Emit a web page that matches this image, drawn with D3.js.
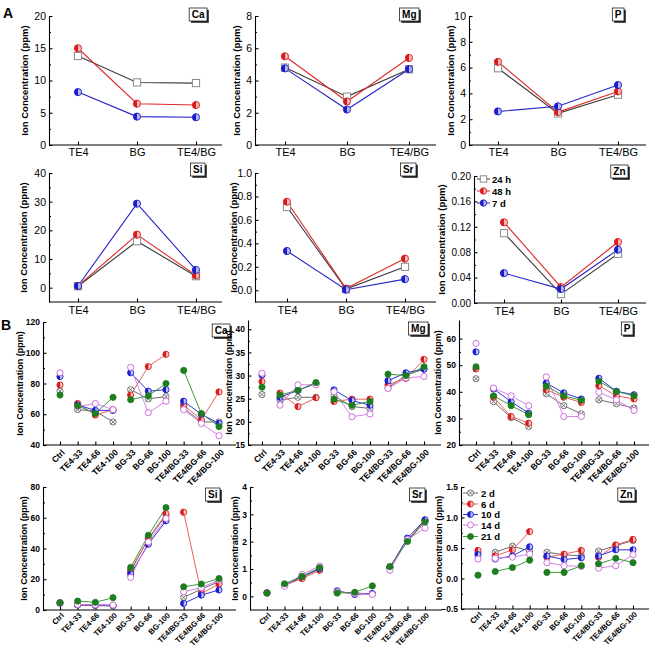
<!DOCTYPE html>
<html><head><meta charset="utf-8">
<script src="https://cdn.jsdelivr.net/npm/d3@7"></script>
<style>body{margin:0;background:#fff} text{font-family:"Liberation Sans",Arial,sans-serif}</style>
</head><body><svg id="c" width="649" height="648"></svg>
<script>
// ---------- DATA ----------
const catsA = ["TE4","BG","TE4/BG"];
const seriesA = ["24 h","48 h","7 d"];
const caA = [[13.8,9.7,9.6],[15.0,6.4,6.2],[8.2,4.4,4.3]];
const mgA = [[4.8,3.0,4.7],[5.5,2.7,5.4],[4.75,2.2,4.7]];
const pA  = [[5.95,2.45,3.9],[6.45,2.55,4.15],[2.6,3.0,4.65]];
const siA = [[0.5,16.2,4.0],[0.6,18.5,4.3],[0.6,29.3,6.2]];
const srA = [[0.71,0.01,0.20],[0.755,0.015,0.27],[0.335,0.005,0.095]];
const znA = [[0.110,0.014,0.0775],[0.127,0.025,0.096],[0.047,0.022,0.084]];
const caATicks = [0,5,10,15,20];
const mgATicks = [0,2,4,6,8];
const pATicks  = [0,2,4,6,8,10];
const siATicks = [0,10,20,30,40];
const srATicks = [0,0.2,0.4,0.6,0.8,1.0];
const znATicks = [0,0.04,0.08,0.12,0.16,0.20];

const catsB = ["Ctrl","TE4-33","TE4-66","TE4-100","BG-33","BG-66","BG-100","TE4/BG-33","TE4/BG-66","TE4/BG-100"];
const seriesB = ["2 d","6 d","10 d","14 d","21 d"];
const groupsB = [[0],[1,2,3],[4,5,6],[7,8,9]];
const caB = [
  [75,63,62,55,76,70,71.5,64,55,55],
  [79,67,59.5,63,72.5,91,99,66,56.5,74.5],
  [84.5,66,62.5,62.5,87,75,76,68.5,60,54],
  [87,65,67,63,90.5,61,68.5,63,54,46],
  [72.5,65.5,60.5,71,69.5,72,80,88.5,60.5,52]];
const mgB = [
  [25.9,24.7,25.3,25.3,25.6,23.3,22.9,27.3,30.1,31.4],
  [28.7,26.2,23.3,25.2,24.4,24.9,24.9,28.0,29.4,33.5],
  [30.1,25.3,26.8,28.3,26.9,24.6,23.6,28.9,30.6,31.4],
  [30.5,23.6,28.0,28.0,26.5,21.1,21.7,27.2,29.5,29.8],
  [27.5,25.8,26.8,28.5,24.9,23.6,24.4,30.3,30.0,31.9]];
const pB = [
  [44.9,36.3,30.3,26.9,39.3,34.8,31.7,37.0,35.5,33.9],
  [48.6,38.0,30.7,28.2,40.8,38.0,36.0,42.3,38.5,37.3],
  [55.0,41.1,36.3,32.0,43.3,39.6,37.3,45.1,40.2,38.9],
  [58.2,41.4,38.5,34.8,45.6,30.7,30.7,39.8,37.0,33.0],
  [49.4,38.5,34.8,31.4,42.1,38.5,36.8,44.0,40.1,38.5]];
const siB = [
  [4.5,3.2,2.8,2.6,26.0,46.0,61.6,8.2,13.6,18.4],
  [4.6,3.5,3.3,3.0,25.0,46.5,62.7,63.6,10.8,16.9],
  [4.5,3.4,3.2,3.0,23.4,42.8,58.0,4.3,9.7,13.0],
  [4.7,3.6,3.4,3.2,21.2,44.3,59.5,11.9,14.5,19.5],
  [4.8,5.8,5.0,8.0,27.7,48.6,66.6,15.1,16.9,20.5]];
const srB = [
  [0.12,0.42,0.70,1.00,0.16,0.12,0.09,1.05,2.05,2.75],
  [0.13,0.40,0.65,0.95,0.15,0.11,0.09,1.07,2.05,2.78],
  [0.13,0.40,0.73,1.01,0.20,0.07,0.10,1.05,2.13,2.80],
  [0.12,0.37,0.80,1.11,0.16,0.10,0.07,0.95,2.08,2.50],
  [0.12,0.46,0.73,1.05,0.12,0.15,0.38,1.09,2.01,2.72]];
const znB = [
  [0.42,0.43,0.53,0.45,0.43,0.39,0.37,0.45,0.54,0.62],
  [0.46,0.37,0.47,0.77,0.35,0.40,0.46,0.35,0.55,0.64],
  [0.39,0.32,0.37,0.52,0.37,0.31,0.34,0.37,0.47,0.47],
  [0.32,0.33,0.35,0.40,0.26,0.21,0.20,0.17,0.21,0.39],
  [0.055,0.115,0.18,0.30,0.10,0.10,0.21,0.24,0.33,0.26]];
const caBTicks = [40,60,80,100,120];
const mgBTicks = [15,20,25,30,35,40];
const pBTicks  = [20,30,40,50,60];
const siBTicks = [0,20,40,60,80];
const srBTicks = [0,1,2,3,4];
const znBTicks = [-0.5,0.0,0.5,1.0,1.5];

// ---------- STYLES ----------
const stylesA = [
  {line:"#3a3a3a", mk:"square", c:"#8a8a8a"},
  {line:"#e02828", mk:"half", c:"#d81c1c", light:"#f4b8b8"},
  {line:"#2424c8", mk:"half", c:"#1c1cc8", light:"#b8b8f0"}];
const stylesB = [
  {line:"#6a6a6a", mk:"cross", c:"#6a6a6a"},
  {line:"#e86060", mk:"half", c:"#d81c1c", light:"#f8c0c0"},
  {line:"#3030d8", mk:"half", c:"#1c1cd0", light:"#c0c0f4"},
  {line:"#d880e8", mk:"open", c:"#d070e0"},
  {line:"#3c9a3c", mk:"fill", c:"#1e7e1e"}];

const svg = d3.select("#c");

function marker(g, st, cx, cy, r) {
  const m = g.append("g").attr("transform", `translate(${cx},${cy})`);
  if (st.mk === "square") {
    m.append("rect").attr("x",-r).attr("y",-r).attr("width",2*r).attr("height",2*r)
      .attr("fill","#fff").attr("stroke",st.c).attr("stroke-width",1);
  } else if (st.mk === "half") {
    m.append("circle").attr("r",r).attr("fill",st.light).attr("stroke",st.c).attr("stroke-width",0.9);
    m.append("path").attr("d",`M0,${-r}A${r},${r} 0 0 0 0,${r}Z`).attr("fill",st.c);
  } else if (st.mk === "cross") {
    m.append("circle").attr("r",r).attr("fill","#fff").attr("stroke",st.c).attr("stroke-width",0.9);
    const k = r*0.7;
    m.append("path").attr("d",`M${-k},${-k}L${k},${k}M${-k},${k}L${k},${-k}`).attr("stroke",st.c).attr("stroke-width",0.9);
  } else if (st.mk === "open") {
    m.append("circle").attr("r",r).attr("fill","#fff").attr("stroke",st.c).attr("stroke-width",1);
  } else {
    m.append("circle").attr("r",r).attr("fill",st.c).attr("stroke",st.c).attr("stroke-width",0.8);
  }
}

function elemBox(label, right, top) {
  const g = svg.append("g");
  const t = g.append("text").attr("font-size",10).attr("font-weight","bold").text(label);
  const w = t.node().getComputedTextLength() + 5, h = 13;
  const x = right - w;
  g.insert("rect","text").attr("x",x+1.8).attr("y",top+1.8).attr("width",w).attr("height",h).attr("fill","#222");
  g.insert("rect","text").attr("x",x).attr("y",top).attr("width",w).attr("height",h).attr("fill","#fff").attr("stroke","#222").attr("stroke-width",0.8);
  t.attr("x",x+w/2).attr("y",top+h/2+3.6).attr("text-anchor","middle");
}

function panel(cfg) {
  const g = svg.append("g");
  const n = cfg.cats.length;
  const x = d3.scaleLinear().domain([1,n]).range([cfg.xf,cfg.xl]);
  const y = d3.scaleLinear().domain(cfg.dom).range([cfg.yb,cfg.yt]);
  const minors = [];
  for (let i=0;i<cfg.ticks.length-1;i++) minors.push((cfg.ticks[i]+cfg.ticks[i+1])/2);
  g.append("g").attr("transform",`translate(${cfg.x0},0)`)
    .call(d3.axisLeft(y).tickValues(minors).tickSizeInner(-2).tickSizeOuter(0).tickFormat(""))
    .call(a=>{a.select(".domain").remove(); a.selectAll("line").attr("stroke","#000");});
  const ya = g.append("g").attr("transform",`translate(${cfg.x0},0)`)
    .call(d3.axisLeft(y).tickValues(cfg.ticks).tickSizeInner(-3.5).tickSizeOuter(0).tickPadding(3).tickFormat(cfg.fmt));
  ya.selectAll("text").attr("font-size",cfg.fs).attr("font-weight",cfg.bold?"bold":"normal").attr("fill","#000");
  ya.selectAll("line,path").attr("stroke","#000").attr("stroke-width",1.1);
  const xa = g.append("g").attr("transform",`translate(0,${cfg.yb})`)
    .call(d3.axisBottom(x).tickValues(d3.range(1,n+1)).tickSizeInner(-3.5).tickSizeOuter(0).tickPadding(3).tickFormat((d)=>cfg.cats[d-1]));
  xa.select(".domain").remove();
  xa.selectAll("line").attr("stroke","#000").attr("stroke-width",1.1);
  g.append("line").attr("x1",cfg.x0).attr("x2",cfg.xe).attr("y1",cfg.yb).attr("y2",cfg.yb).attr("stroke","#000").attr("stroke-width",1.2);
  const tx = xa.selectAll("text").attr("fill","#000").attr("font-size",cfg.xfs).attr("font-weight",cfg.bold?"bold":"normal");
  if (cfg.rot) {
    tx.attr("y",0).attr("dy",0).attr("text-anchor","end").attr("transform",`translate(${cfg.rdx},${cfg.rdy}) rotate(-45)`);
  } else {
    tx.attr("y",cfg.xly);
  }
  g.append("text").attr("transform",`translate(${cfg.tx},${(cfg.yt+cfg.yb)/2}) rotate(-90)`)
    .attr("text-anchor","middle").attr("font-size",cfg.tfs).attr("font-weight","bold").text("Ion Concentration (ppm)");
  cfg.data.forEach((vals,si)=>{
    const st = cfg.styles[si];
    cfg.groups.forEach(gr=>{
      if (gr.length>1) {
        g.append("path").attr("d",d3.line().x(i=>x(i+1)).y(i=>y(vals[i]))(gr))
          .attr("fill","none").attr("stroke",st.line).attr("stroke-width",cfg.lw);
      }
    });
  });
  cfg.data.forEach((vals,si)=>{
    const st = cfg.styles[si];
    vals.forEach((v,i)=>marker(g,st,x(i+1),y(v),cfg.r));
  });
  elemBox(cfg.el, cfg.bx, cfg.by);
}

const fmt0 = d3.format("d"), fmt1 = d3.format(".1f"), fmt2 = d3.format(".2f");
const gA = [[0,1,2]];
const baseA = {cats:catsA, groups:gA, styles:stylesA, fs:10.5, xfs:11, tfs:9.5, bold:false, rot:false, r:3.6, lw:1.1};
panel({...baseA, el:"Ca", data:caA, dom:[0,20], ticks:caATicks, fmt:fmt0, x0:49, xe:222, xf:78, xl:196, yt:16, yb:145, tx:28, bx:207, by:8, xly:3});
panel({...baseA, el:"Mg", data:mgA, dom:[0,8], ticks:mgATicks, fmt:fmt0, x0:255, xe:436, xf:285, xl:409, yt:16, yb:145, tx:240, bx:419, by:8, xly:3});
panel({...baseA, el:"P", data:pA, dom:[0,10], ticks:pATicks, fmt:fmt0, x0:469, xe:646, xf:498, xl:618, yt:16, yb:145, tx:454, bx:624, by:8, xly:3});
panel({...baseA, el:"Si", data:siA, dom:[-5,40], ticks:siATicks, fmt:fmt0, x0:49, xe:222, xf:78, xl:196, yt:173, yb:302, tx:27, bx:205, by:163, xly:4});
panel({...baseA, el:"Sr", data:srA, dom:[-0.1,1.0], ticks:srATicks, fmt:fmt1, x0:255, xe:436, xf:287, xl:405, yt:173, yb:302, tx:237, bx:416, by:163, xly:4});
panel({...baseA, el:"Zn", data:znA, dom:[0,0.2], ticks:znATicks, fmt:fmt2, x0:474, xe:646, xf:504, xl:618, yt:176, yb:303, tx:445, bx:628, by:165, xly:4, fs:10});

const baseB1 = {cats:catsB, groups:groupsB, styles:stylesB, fs:8.5, xfs:8.5, tfs:9, bold:true, rot:true, r:3.1, lw:1, rdx:5, rdy:8};
const baseB2 = {...baseB1, xfs:7.7, rdx:4, rdy:6};
panel({...baseB1, el:"Ca", data:caB, dom:[40,120], ticks:caBTicks, fmt:fmt0, x0:43, xe:236, xf:60, xl:219, yt:322, yb:445, tx:23, bx:230, by:324});
panel({...baseB1, el:"Mg", data:mgB, dom:[15,42], ticks:mgBTicks, fmt:fmt0, x0:248, xe:441, xf:262, xl:424, yt:320, yb:445, tx:232, bx:428, by:322});
panel({...baseB1, el:"P", data:pB, dom:[20,67], ticks:pBTicks, fmt:fmt0, x0:459, xe:649, xf:476, xl:634, yt:320, yb:445, tx:441, bx:633, by:322});
panel({...baseB2, el:"Si", data:siB, dom:[0,80], ticks:siBTicks, fmt:fmt0, x0:43, xe:236, xf:60, xl:219, yt:487, yb:610, tx:27, bx:220, by:488});
panel({...baseB2, el:"Sr", data:srB, dom:[-0.5,4], ticks:srBTicks, fmt:fmt0, x0:250, xe:442, xf:267, xl:425, yt:487, yb:610, tx:238, bx:425, by:488});
panel({...baseB2, el:"Zn", data:znB, dom:[-0.5,1.5], ticks:znBTicks, fmt:fmt1, x0:461, xe:649, xf:478, xl:633, yt:487, yb:609, tx:442, bx:635, by:488});

function legend(names, styles, x1, x2, tx, ys, r, fs) {
  const g = svg.append("g");
  names.forEach((nm,i)=>{
    const st = styles[i];
    g.append("line").attr("x1",x1).attr("x2",x2).attr("y1",ys[i]).attr("y2",ys[i]).attr("stroke",st.line).attr("stroke-width",1);
    marker(g, st, (x1+x2)/2, ys[i], r);
    g.append("text").attr("x",tx).attr("y",ys[i]+3.5).attr("font-size",fs).attr("font-weight","bold").text(nm);
  });
}
legend(seriesA, stylesA, 477, 490, 492, [179,191,203], 3.2, 9.5);
legend(seriesB, stylesB, 463, 478, 481, [493,504,514.5,525,536.5], 3, 9.5);

svg.append("text").attr("x",3).attr("y",18).attr("font-size",14).attr("font-weight","bold").text("A");
svg.append("text").attr("x",1).attr("y",330).attr("font-size",14).attr("font-weight","bold").text("B");
</script></body></html>
